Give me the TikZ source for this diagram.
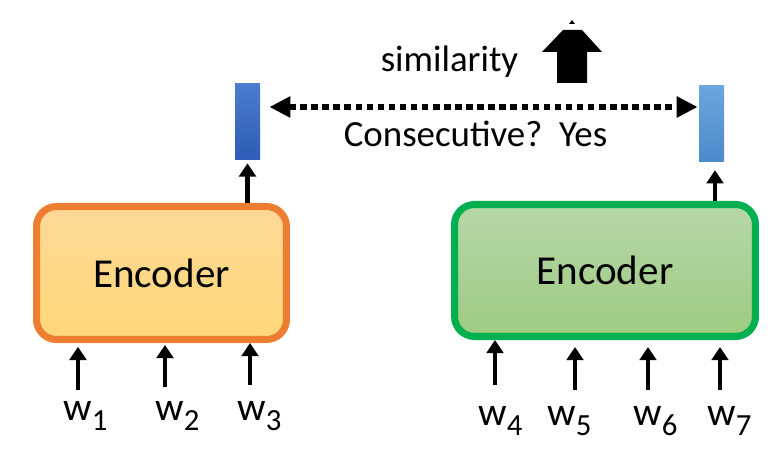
\documentclass[tikz,border=0pt]{standalone}
\usepackage{fontspec}
\setmainfont{Carlito}
\usetikzlibrary{arrows.meta, positioning}

\definecolor{encorange}{HTML}{ED7D31}
\definecolor{encgreen}{HTML}{00B050}
\newcommand{\wsub}[1]{w\raisebox{-5.7pt}{\fontsize{17.5}{17.5}\selectfont #1}}

\begin{document}
\begin{tikzpicture}[x=0.02cm, y=-0.02cm,
encbox/.style={rounded corners=0.4cm, line width=4pt, minimum width=5cm, minimum height=2.66cm, font=\fontsize{23.4}{28}\selectfont},
vecbox/.style={minimum width=0.5cm, minimum height=1.54cm, inner sep=0pt},
up/.style={-{Triangle[length=7.5pt,width=9.5pt]}, line width=2.3pt},
dotarrow/.style={{Triangle[length=12pt,width=11.5pt]}-{Triangle[length=12pt,width=11.5pt]}, line width=3.6pt, dash pattern=on 3.7pt off 2.6pt},
wlabel/.style={anchor=base west, inner sep=0pt, font=\fontsize{22.7}{27}\selectfont},
tlabel/.style={anchor=base, inner sep=0pt, font=\fontsize{21}{25}\selectfont},
]
\useasboundingbox (0,0) rectangle (774,452);

%Nodes
\node[encbox, draw=encorange, top color={rgb,255:red,253;green,216;blue,150}, bottom color={rgb,255:red,255;green,216;blue,120}] (encL) at (161.5,273) {Encoder};
\node[encbox, minimum width=6.02cm, minimum height=2.64cm, draw=encgreen, top color={rgb,255:red,182;green,215;blue,168}, bottom color={rgb,255:red,158;green,203;blue,128}] (encR) at (605,270.5) {Encoder};

\node[vecbox, top color={rgb,255:red,76;green,124;blue,206}, bottom color={rgb,255:red,46;green,92;blue,182}] (vecL) at (247.5,121.5) {};
\node[vecbox, top color={rgb,255:red,108;green,166;blue,222}, bottom color={rgb,255:red,74;green,138;blue,202}] (vecR) at (711.5,123.5) {};

\node[tlabel] (sim) at (449.5,72) {similarity};
\node[tlabel] (cons) at (475.5,147) {Consecutive?\ \ Yes};

\node[wlabel] (w1) at (63,420) {\wsub{1}};
\node[wlabel] (w2) at (155,420) {\wsub{2}};
\node[wlabel] (w3) at (237,420) {\wsub{3}};
\node[wlabel] (w4) at (478,425) {\wsub{4}};
\node[wlabel] (w5) at (547,425) {\wsub{5}};
\node[wlabel] (w6) at (633,425) {\wsub{6}};
\node[wlabel] (w7) at (707,425) {\wsub{7}};

\coordinate (in1) at (78,390);
\coordinate (in2) at (165,387);
\coordinate (in3) at (250,385);
\coordinate (in4) at (495,385);
\coordinate (in5) at (575,390);
\coordinate (in6) at (648,390);
\coordinate (in7) at (720,390);
\coordinate (outR) at (715,0);

%Big arrow
\fill (557,83) -- (587,83) -- (587,52) -- (602,52) -- (582,30) -- (563,30) -- (542,52) -- (557,52) -- cycle;
\fill (569,24) -- (575,24) -- (572,20) -- cycle;

%Lines
\draw[up, shorten >=2.2pt] (in1) -- (in1 |- encL.south);
\draw[up, shorten >=1.1pt] (in2) -- (in2 |- encL.south);
\draw[up] (in3) -- (in3 |- encL.south);
\draw[up] (in4) -- (in4 |- encR.south);
\draw[up, shorten >=4pt] (in5) -- (in5 |- encR.south);
\draw[up, shorten >=4pt] (in6) -- (in6 |- encR.south);
\draw[up, shorten >=4pt] (in7) -- (in7 |- encR.south);
\draw[up, shorten >=1.7pt] (vecL.south |- encL.north) -- (vecL.south);
\draw[up, shorten >=4.5pt] (outR |- encR.north) -- (outR |- vecR.south);
\draw[dotarrow] ([shift={(9,-14.5)}]vecL.east) -- ([shift={(-1,-16.5)}]vecR.west);

\end{tikzpicture}
\end{document}
